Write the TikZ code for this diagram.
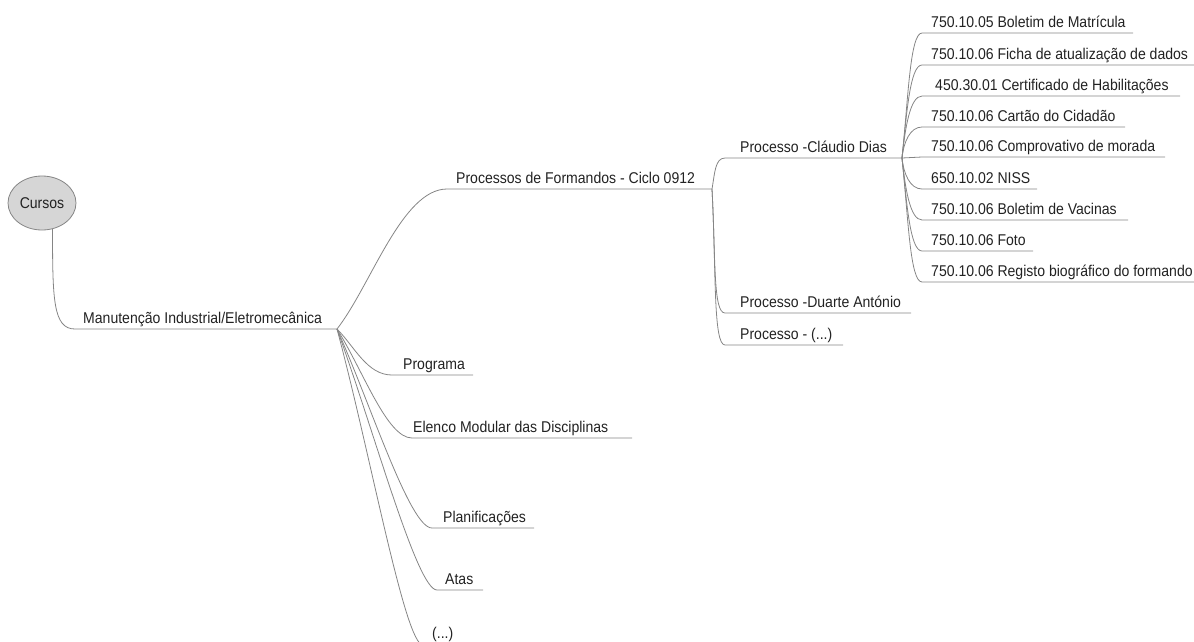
\documentclass[tikz,border=0pt]{standalone}
\usepackage{fontspec}
\setmainfont[FakeStretch=0.9]{Liberation Sans}
\usetikzlibrary{shapes.geometric}
\definecolor{linegray}{HTML}{858585}
\definecolor{txt}{HTML}{222222}
\definecolor{bubble}{HTML}{D6D6D6}
\begin{document}
\begin{tikzpicture}[x=1pt,y=-1pt,
  conn/.style={draw=linegray, line width=0.8pt},
  lbl/.style={anchor=base west, inner sep=0pt, text=txt, font=\fontsize{15.6}{17}\selectfont},
  root/.style={ellipse, draw=linegray, line width=0.8pt, fill=bubble, minimum width=68, minimum height=54, inner sep=0pt, text=txt, font=\fontsize{15.6}{17}\selectfont}]
\useasboundingbox (0,0) rectangle (1194,641);

% root
\node[root] (cursos) at (42,203) {Cursos};

% level 1
\coordinate (manS) at (75,329); \coordinate (manE) at (337,329);
\node[lbl] (man) at (83,323) {Manutenção Industrial/Eletromecânica};
\draw[conn] (cursos.-68) to[out=-90,in=180,out distance=70,in distance=22] (manS) -- (manE);

% level 2
\coordinate (procS) at (447,189); \coordinate (procE) at (712,189);
\node[lbl] (proc) at (456,183) {Processos de Formandos - Ciclo 0912};
\coordinate (progS) at (392,375); \coordinate (progE) at (473,375);
\node[lbl] (prog) at (403,369) {Programa};
\coordinate (elenS) at (412,438); \coordinate (elenE) at (632,438);
\node[lbl] (elen) at (413,432) {Elenco Modular das Disciplinas};
\coordinate (planS) at (432,528); \coordinate (planE) at (534,528);
\node[lbl] (plan) at (443,522) {Planificações};
\coordinate (atasS) at (437,590); \coordinate (atasE) at (483,590);
\node[lbl] (atas) at (445,584) {Atas};
\coordinate (etcS) at (423,645); \coordinate (etcE) at (470,645);
\node[lbl] (etc) at (432,638) {(...)};

\draw[conn] (manE) to[out=52,in=180,out distance=55,in distance=45] (procS) -- (procE);
\draw[conn] (manE) to[out=-45,in=180,out distance=25,in distance=25] (progS) -- (progE);
\draw[conn] (manE) to[out=-58,in=180,out distance=50,in distance=25] (elenS) -- (elenE);
\draw[conn] (manE) to[out=-66,in=180,out distance=85,in distance=22] (planS) -- (planE);
\draw[conn] (manE) to[out=-70,in=180,out distance=110,in distance=20] (atasS) -- (atasE);
\draw[conn] (manE) to[out=-75,in=180,out distance=130,in distance=18] (etcS) -- (etcE);

% level 3
\coordinate (clauS) at (725,158); \coordinate (clauE) at (902,158);
\node[lbl] (clau) at (740,152) {Processo -Cláudio Dias};
\coordinate (duarS) at (725,313); \coordinate (duarE) at (911,313);
\node[lbl] (duar) at (740,307) {Processo -Duarte António};
\coordinate (pxS) at (725,345); \coordinate (pxE) at (843,345);
\node[lbl] (px) at (740,339) {Processo - (...)};

\draw[conn] (procE) to[out=80,in=180,out distance=16,in distance=10] (clauS) -- (clauE);
\draw[conn] (procE) to[out=-87,in=180,out distance=70,in distance=12] (duarS) -- (duarE);
\draw[conn] (procE) to[out=-87,in=180,out distance=80,in distance=12] (pxS) -- (pxE);

% level 4
\foreach \n/\y/\xe/\xt/\t in {
  la/33/1133/931/{750.10.05 Boletim de Matrícula},
  lb/65/1200/931/{750.10.06 Ficha de atualização de dados},
  lc/96/1180/935/{450.30.01 Certificado de Habilitações},
  ld/127/1125/931/{750.10.06 Cartão do Cidadão},
  le/157/1165/931/{750.10.06 Comprovativo de morada},
  lf/189/1037/931/{650.10.02 NISS},
  lg/220/1128/931/{750.10.06 Boletim de Vacinas},
  lh/251/1033/931/{750.10.06 Foto},
  li/282/1200/931/{750.10.06 Registo biográfico do formando}}{
  \coordinate (\n S) at (922,\y); \coordinate (\n E) at (\xe,\y);
  \node[lbl] (\n) at (\xt,\y-6) {\t};
}
\foreach \n/\d in {la/60,lb/45,lc/30,ld/16}{
  \draw[conn] (clauE) to[out=84,in=180,out distance=\d,in distance=12] (\n S) -- (\n E);
}
\draw[conn] (clauE) -- (leS) -- (leE);
\foreach \n/\d in {lf/16,lg/30,lh/45,li/60}{
  \draw[conn] (clauE) to[out=-84,in=180,out distance=\d,in distance=12] (\n S) -- (\n E);
}
\end{tikzpicture}
\end{document}
